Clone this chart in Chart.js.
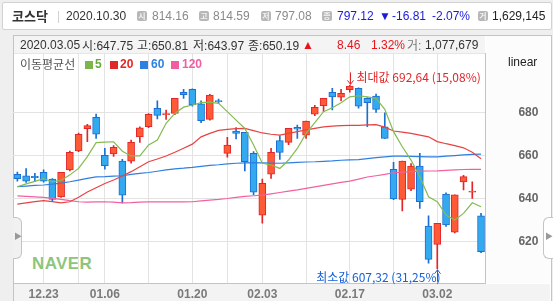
<!DOCTYPE html>
<html>
<head>
<meta charset="utf-8">
<script src="https://cdn.jsdelivr.net/npm/chart.js@4.4.0/dist/chart.umd.min.js"></script>
<style>
    body { margin: 0; width: 553px; height: 301px; overflow: hidden; background: #efefef; position: relative; }
    .box { position: absolute; }
    .tk { position: absolute; white-space: nowrap; font: 12px/14px 'Liberation Sans', 'Noto Sans CJK KR', sans-serif; color: #333; z-index: 3; }
    .kr { font-family: 'Noto Sans CJK KR', sans-serif; }
    .badge { position: absolute; top: 11px; width: 10px; height: 10px; background: #b7b7b7; border-radius: 2px; color: #f2f2f2;
             font: bold 8px/10px 'Noto Sans CJK KR', sans-serif; text-align: center; z-index: 3; }
    .sq { position: absolute; top: 61px; width: 8px; height: 8px; z-index: 3; }
    #wrap { position: absolute; left: 0; top: 0; width: 553px; height: 301px; z-index: 2; }
</style>
</head>
<body>
<!-- backgrounds -->
<div class="box" style="left:2px;top:2px;width:548px;height:26px;background:#fff;border:1px solid #d2d2d2;border-radius:2px"></div>
<div class="box" style="left:13px;top:35px;width:537px;height:270px;background:#fff;border:1px solid #c4c4c4"></div>
<div class="box" style="left:14px;top:36px;width:471px;height:17px;background:#f4f4f4;border-bottom:1px solid #e6e6e6"></div>
<div class="box" style="left:486px;top:36px;width:64px;height:247px;background:#fcfcfc"></div>
<div class="box" style="left:14px;top:284px;width:536px;height:20px;background:#f3f3f3"></div>
<div class="box" style="left:32px;top:255px;font:bold 17px/18px 'Liberation Sans',sans-serif;color:#8dc67b;letter-spacing:0.4px">NAVER</div>

<!-- header bar -->
<span class="tk kr" style="left:12px;top:9px;font-weight:bold;font-size:13px">코스닥</span>
<span class="tk" style="left:57px;top:9px;color:#cfcfcf">|</span>
<span class="tk" style="left:66px;top:9px">2020.10.30</span>
<span class="badge" style="left:137px">시</span>
<span class="tk" style="left:152px;top:9px;color:#8a8a8a">814.16</span>
<span class="badge" style="left:199px">고</span>
<span class="tk" style="left:213px;top:9px;color:#8a8a8a">814.59</span>
<span class="badge" style="left:261px">저</span>
<span class="tk" style="left:275px;top:9px;color:#8a8a8a">797.08</span>
<span class="badge" style="left:322px">종</span>
<span class="tk" style="left:337px;top:9px;color:#1a1adb">797.12</span>
<span class="tk" style="left:379px;top:9px;color:#1a1adb">▼</span>
<span class="tk" style="left:392px;top:9px;color:#1a1adb">-16.81</span>
<span class="tk" style="left:432px;top:9px;color:#1a1adb">-2.07%</span>
<span class="badge" style="left:478px">거</span>
<span class="tk" style="left:492px;top:9px;color:#222">1,629,145</span>

<!-- selected day row -->
<span class="tk" style="left:20px;top:38px">2020.03.05</span>
<span class="tk" style="left:82px;top:38px"><span class="kr">시</span>:647.75</span>
<span class="tk" style="left:137px;top:38px"><span class="kr">고</span>:650.81</span>
<span class="tk" style="left:193px;top:38px"><span class="kr">저</span>:643.97</span>
<span class="tk" style="left:248px;top:38px"><span class="kr">종</span>:650.19</span>
<span class="tk" style="left:302px;top:38px;color:#e8141a">▲</span>
<span class="tk" style="left:337px;top:38px;color:#e8141a">8.46</span>
<span class="tk" style="left:371px;top:38px;color:#e8141a">1.32%</span>
<span class="tk" style="left:407px;top:38px;color:#777"><span class="kr">거</span>:</span>
<span class="tk" style="left:425px;top:38px">1,077,679</span>

<!-- moving average legend -->
<span class="tk kr" style="left:20px;top:57px;color:#555">이동평균선</span>
<span class="sq" style="left:85px;background:#7cb54a"></span>
<span class="tk" style="left:95px;top:57px;color:#6aa83a;font-weight:bold">5</span>
<span class="sq" style="left:110px;background:#e02828"></span>
<span class="tk" style="left:120px;top:57px;color:#e02828;font-weight:bold">20</span>
<span class="sq" style="left:140px;background:#2f80e0"></span>
<span class="tk" style="left:151px;top:57px;color:#2f80e0;font-weight:bold">60</span>
<span class="sq" style="left:171px;background:#f25ca2"></span>
<span class="tk" style="left:182px;top:57px;color:#f25ca2;font-weight:bold">120</span>
<span class="tk" style="left:508px;top:55px;color:#222">linear</span>

<!-- side tabs -->
<div class="box" style="left:13px;top:217px;width:8px;height:40px;background:#f1f1f1;border:1px solid #c4c4c4;border-left:none;border-radius:0 6px 6px 0;z-index:3"></div>
<span class="tk" style="left:14px;top:230px;color:#999;font-size:8px">▶</span>
<div class="box" style="left:543px;top:217px;width:9px;height:40px;background:#fff;border:1px solid #c4c4c4;border-right:none;border-radius:6px 0 0 6px;z-index:3"></div>
<span class="tk" style="left:545px;top:230px;color:#999;font-size:8px">▶</span>

<div id="wrap"><canvas id="chart"></canvas></div>

<script>
// trading days shown on the chart
const labels = ['12.18', '12.19', '12.20', '12.23', '12.24', '12.26', '12.27', '12.30', '01.02', '01.03',
                '01.06', '01.07', '01.08', '01.09', '01.10', '01.13', '01.14', '01.15', '01.16', '01.17',
                '01.20', '01.21', '01.22', '01.23', '01.28', '01.29', '01.30', '01.31', '02.03', '02.04',
                '02.05', '02.06', '02.07', '02.10', '02.11', '02.12', '02.13', '02.14', '02.17', '02.18',
                '02.19', '02.20', '02.21', '02.24', '02.25', '02.26', '02.27', '02.28', '03.02', '03.03',
                '03.04', '03.05', '03.06', '03.09'];
const tickLabels = ['12.23', '01.06', '01.20', '02.03', '02.17', '03.02'];
const weekStarts = ['12.23', '12.30', '01.06', '01.13', '01.20', '01.28', '02.03', '02.10', '02.17', '02.24', '03.02'];
const yTicks = [620, 640, 660, 680];

const opens  = [651.3, 650.6, 650.3, 652.2, 649.0, 640.8, 653.3, 662.2, 672.5, 677.8,
                660.1, 660.8, 657.4, 657.4, 668.7, 673.4, 682.0, 679.0, 679.6, 689.4,
                690.8, 684.0, 676.8, 685.6, 661.0, 671.4, 670.8, 661.0, 632.3, 651.3,
                666.9, 666.1, 673.1, 669.5, 679.2, 683.2, 689.4, 687.1, 690.6, 691.3,
                686.6, 687.7, 673.4, 653.6, 639.6, 644.3, 655.1, 627.2, 618.7, 642.1,
                624.3, 647.75, 643.0, 631.9];
const highs  = [652.3, 653.9, 651.7, 653.3, 649.3, 652.2, 662.1, 670.5, 674.5, 679.3,
                663.3, 664.6, 658.2, 667.2, 673.4, 679.5, 685.5, 681.2, 686.6, 690.8,
                691.0, 685.5, 688.5, 686.3, 668.5, 673.0, 670.8, 661.8, 649.1, 663.3,
                669.2, 672.7, 674.2, 676.0, 683.3, 686.6, 691.3, 690.8, 692.64, 691.5,
                687.0, 688.6, 679.9, 656.8, 657.4, 656.3, 661.0, 632.0, 628.5, 642.7,
                641.73, 650.81, 647.8, 633.1];
const lows   = [648.1, 647.5, 647.8, 647.6, 639.0, 640.5, 652.8, 661.8, 666.4, 668.0,
                653.7, 659.6, 638.0, 656.4, 666.1, 673.0, 677.0, 676.8, 679.0, 686.6,
                683.0, 675.3, 676.5, 684.3, 659.2, 667.7, 652.8, 641.8, 628.5, 649.4,
                658.2, 665.0, 668.0, 668.0, 678.5, 680.4, 681.2, 685.5, 689.5, 682.0,
                673.4, 680.0, 668.0, 639.5, 634.2, 643.6, 635.4, 609.9, 607.32, 627.0,
                624.0, 643.97, 640.1, 614.8];
const closes = [649.2, 648.1, 649.7, 648.1, 639.6, 652.2, 661.5, 669.9, 673.9, 669.9,
                655.3, 663.8, 641.6, 666.1, 672.9, 679.2, 678.7, 679.4, 686.6, 688.3,
                683.5, 676.2, 688.1, 685.0, 664.9, 670.3, 657.1, 642.9, 647.1, 661.5,
                661.5, 672.7, 672.3, 676.0, 682.4, 686.6, 687.3, 688.9, 692.3, 683.0,
                684.6, 681.5, 668.0, 639.8, 657.4, 655.1, 638.5, 611.7, 628.5, 627.7,
                641.73, 650.19, 643.4, 615.3];

// moving averages
const ma5   = [645.5, 646.8, 648.0, 649.2, 647.8, 648.4, 651.0, 654.0, 659.5, 666.0,
               666.2, 666.4, 662.0, 659.8, 659.8, 664.9, 667.2, 675.0, 679.6, 682.5,
               683.5, 684.6, 684.8, 684.3, 680.4, 676.5, 672.6, 664.9, 656.4, 655.6,
               654.0, 657.9, 663.3, 670.3, 675.3, 680.4, 682.2, 684.6, 687.3, 687.8,
               687.3, 686.6, 681.5, 671.1, 664.1, 657.9, 650.1, 640.8, 638.5, 632.3,
               630.0, 633.1, 638.0, 636.2];
const ma20  = [637.4, 638.0, 638.6, 639.0, 638.6, 638.0, 638.5, 640.6, 643.0, 645.0,
               647.0, 648.6, 650.5, 652.5, 654.8, 657.1, 658.4, 659.8, 661.5, 663.4,
               665.3, 668.7, 670.3, 671.7, 672.2, 672.5, 672.6, 671.6, 670.5, 669.9,
               669.5, 670.3, 671.1, 671.9, 672.6, 673.3, 673.7, 673.9, 674.0, 674.0,
               674.3, 674.4, 673.2, 671.4, 670.9, 670.3, 669.5, 668.7, 666.5, 665.5,
               664.6, 663.6, 661.5, 658.5];
const ma60  = [645.5, 645.8, 646.1, 646.3, 646.7, 647.2, 647.8, 648.6, 649.4, 650.1,
               650.2, 650.4, 650.6, 651.2, 651.7, 652.1, 652.7, 653.3, 653.8, 654.1,
               654.5, 655.0, 655.4, 655.7, 656.1, 656.4, 656.6, 656.7, 656.6, 656.5,
               656.4, 656.6, 656.8, 657.0, 657.1, 657.3, 657.5, 657.8, 658.0, 658.1,
               658.6, 659.0, 659.4, 659.7, 659.7, 659.6, 659.5, 659.4, 659.4, 659.7,
               660.0, 660.3, 660.5, 660.7];
const ma120 = [641.2, 641.0, 640.8, 640.5, 640.1, 639.6, 639.0, 638.5, 638.3, 638.4,
               638.5, 638.3, 638.0, 638.1, 638.3, 638.4, 638.4, 638.4, 638.4, 638.4,
               638.5, 638.9, 639.3, 639.6, 640.0, 640.5, 641.0, 641.3, 641.6, 642.2,
               642.8, 643.4, 644.0, 644.7, 645.4, 646.1, 646.8, 647.5, 648.1, 649.0,
               650.0, 650.6, 651.2, 652.0, 652.3, 652.5, 652.7, 652.8, 652.9, 653.1,
               653.3, 653.5, 653.6, 653.6];

const lastPrice = 797.12;

const UP_FILL = '#ff5a36', UP_LINE = '#e2252a';
const DOWN_FILL = '#33aaef', DOWN_LINE = '#1b6fd2';
const isUp = opens.map((o, i) => closes[i] >= o);

function maLine(data, color) {
    return { type: 'line', data: data, borderColor: color, borderWidth: 1.2, pointRadius: 0, tension: 0, order: 0 };
}

// max / min markers like the naver chart
const extremes = {
    id: 'extremes',
    afterDatasetsDraw(chart) {
        const ctx = chart.ctx, x = chart.scales.x, y = chart.scales.y;
        const hi = Math.max(...highs), lo = Math.min(...lows);
        const hiIdx = highs.indexOf(hi), loIdx = lows.indexOf(lo);
        const fmt = v => v.toFixed(2).replace('.', ',');
        ctx.save();
        ctx.lineWidth = 1;
        ctx.font = '12px "Noto Sans CJK KR"';
        ctx.textBaseline = 'middle';

        let px = Math.round(x.getPixelForValue(hiIdx)) + 0.5, py = y.getPixelForValue(hi);
        ctx.strokeStyle = ctx.fillStyle = '#e2252a';
        ctx.beginPath();
        ctx.moveTo(px, py - 13); ctx.lineTo(px, py - 1);
        ctx.moveTo(px - 3, py - 5); ctx.lineTo(px, py - 1); ctx.lineTo(px + 3, py - 5);
        ctx.stroke();
        ctx.textAlign = 'left';
        ctx.fillText('최대값 ' + fmt(hi) + ' (' + fmt((lastPrice / hi - 1) * 100) + '%)', px + 6, py - 8);

        px = Math.round(x.getPixelForValue(loIdx)) + 0.5; py = y.getPixelForValue(lo);
        ctx.strokeStyle = ctx.fillStyle = '#1560d6';
        ctx.beginPath();
        ctx.moveTo(px, py + 13); ctx.lineTo(px, py + 1);
        ctx.moveTo(px - 3, py + 5); ctx.lineTo(px, py + 1); ctx.lineTo(px + 3, py + 5);
        ctx.stroke();
        ctx.textAlign = 'right';
        ctx.fillText('최소값 ' + fmt(lo) + ' (' + fmt((lastPrice / lo - 1) * 100) + '%)', px + 3, py + 9);
        ctx.restore();
    }
};

new Chart(document.getElementById('chart'), {
    type: 'bar',
    data: {
        labels: labels,
        datasets: [
            maLine(ma5, '#84bb50'),
            maLine(ma20, '#e84343'),
            maLine(ma60, '#2f7fe0'),
            maLine(ma120, '#f2609f'),
            {
                data: opens.map((o, i) => [o, closes[i]]),
                backgroundColor: isUp.map(u => u ? UP_FILL : DOWN_FILL),
                borderColor: isUp.map(u => u ? UP_LINE : DOWN_LINE),
                borderWidth: 1,
                borderSkipped: false,
                barThickness: 7,
                minBarLength: 1,
                grouped: false,
                order: 1
            },
            {
                data: lows.map((l, i) => [l, highs[i]]),
                backgroundColor: isUp.map(u => u ? UP_LINE : DOWN_LINE),
                barThickness: 1,
                grouped: false,
                order: 2
            }
        ]
    },
    options: {
        responsive: true,
        maintainAspectRatio: false,
        animation: false,
        layout: { padding: { left: 13, right: 5.6, top: 53, bottom: 0 } },
        plugins: { legend: { display: false }, tooltip: { enabled: false } },
        scales: {
            x: {
                offset: true,
                grid: {
                    offset: false,
                    drawTicks: false,
                    color: c => weekStarts.includes(labels[c.index]) ? '#e3e3e3' : 'rgba(0,0,0,0)'
                },
                border: { color: '#c4c4c4' },
                ticks: {
                    autoSkip: false,
                    maxRotation: 0,
                    padding: 4,
                    color: '#7a7a7a',
                    font: { family: 'Liberation Sans', size: 12, weight: 'bold' },
                    callback: (v, i) => tickLabels.includes(labels[i]) ? labels[i] : ''
                },
                afterFit: s => { s.height = 18; }
            },
            y: {
                position: 'right',
                min: 600.7,
                max: 707.7,
                afterBuildTicks: s => { s.ticks = yTicks.map(v => ({ value: v })); },
                grid: { color: '#e3e3e3', drawTicks: false },
                border: { color: '#c4c4c4' },
                ticks: {
                    padding: 33,
                    color: '#666',
                    font: { family: 'Liberation Sans', size: 12, weight: 'bold' }
                },
                // the big label padding must not eat the plot height
                afterFit: s => { s.width = 62; s.paddingTop = 0; s.paddingBottom = 0; }
            }
        }
    },
    plugins: [extremes]
});
</script>
</body>
</html>
